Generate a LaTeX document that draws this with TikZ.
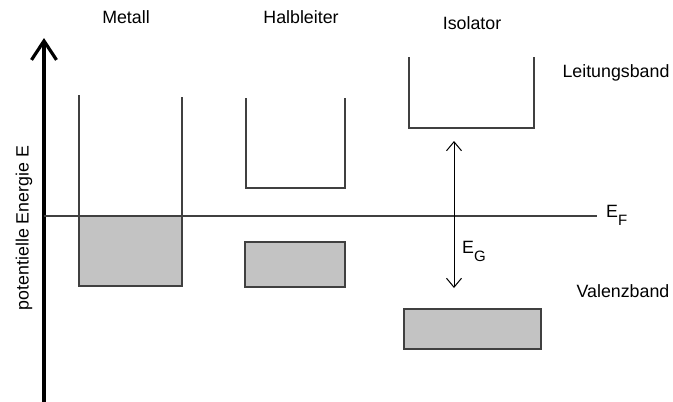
\documentclass[tikz,border=0pt]{standalone}
\usepackage{fontspec}
\setmainfont{Liberation Sans}
\usetikzlibrary{arrows.meta}
\definecolor{bandline}{HTML}{404040}
\definecolor{bandfill}{HTML}{C3C3C3}
\newcommand{\lowsub}[1]{\raisebox{-8pt}{\fontsize{15}{18}\selectfont #1}}
\tikzset{
  lbl/.style={font=\fontsize{17.8}{21}\selectfont, inner sep=0pt, text=black},
  band/.style={draw=bandline, line width=1.8pt},
  filled/.style={band, fill=bandfill},
}
\begin{document}
\begin{tikzpicture}[x=1pt,y=-1pt]
\useasboundingbox (0,0) rectangle (673,402);
% axis
\coordinate (axbot) at (44,402);
\coordinate (axtop) at (44,38);
\draw[line width=3.5pt, -{Straight Barb[length=19pt,width=25pt,line width=3.2pt]}] (axbot) -- (axtop);
\node[lbl, rotate=90] (ylabel) at (24,228) {potentielle Energie E};
% Fermi level
\coordinate (efl) at (44,216);
\coordinate (efr) at (597,216);
\draw[band] (efl) -- (efr);
\node[lbl, anchor=base west] (ef) at (606,217) {E\lowsub{F}};
% Metall
\draw[filled] (79,216) rectangle (182,286);
\draw[band] (79,95) -- (79,216);
\draw[band] (182,97) -- (182,216);
% Halbleiter
\draw[band] (246,98) -- (246,188) -- (345,188) -- (345,98);
\draw[filled] (245,242) rectangle (345,287);
% Isolator
\draw[band] (409,57) -- (409,128) -- (534,128) -- (534,57);
\draw[filled] (404,309) rectangle (541,349);
% band gap arrow
\coordinate (egtop) at (454,141);
\coordinate (egbot) at (454,288);
\draw[line width=1pt, {Straight Barb[length=9pt,width=15pt]}-{Straight Barb[length=9pt,width=15pt]}] (egtop) -- (egbot);
\node[lbl, anchor=base west] (eg) at (462,253) {E\lowsub{G}};
% labels
\node[lbl] (metall) at (126,17) {Metall};
\node[lbl] (halb) at (301,17) {Halbleiter};
\node[lbl] (iso) at (472,23) {Isolator};
\node[lbl] (leit) at (616,73) {Leitungsband};
\node[lbl] (valenz) at (623,291) {Valenzband};
\end{tikzpicture}
\end{document}
